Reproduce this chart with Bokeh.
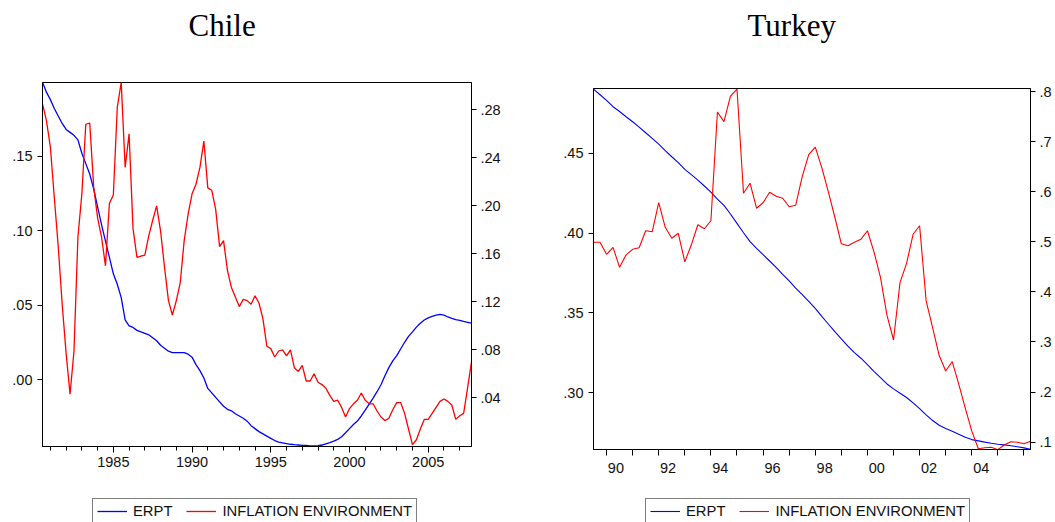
from bokeh.plotting import figure
from bokeh.models import Range1d, LinearAxis, FixedTicker, Legend, LegendItem, Title
from bokeh.layouts import row, column
from bokeh.embed import file_html
from bokeh.resources import INLINE

# ---------------- data ----------------
# Chile: quarterly, first observation 1980Q3
chile_start = 1980.5
chile_erpt = [
    .1997, .193, .188, .182, .177, .172, .168, .166, .164, .161,
    .152, .145, .138, .128, .116, .104, .093, .082, .071, .064,
    .055, .040, .036, .035, .033, .032, .031, .030, .028, .026,
    .023, .021, .019, .018, .018, .018, .018, .017, .015, .010,
    .006, .001, -.006, -.009, -.012, -.015, -.018, -.020, -.021, -.023,
    -.0245, -.026, -.028, -.031, -.033, -.035, -.0365, -.038, -.0395, -.041,
    -.042, -.0425, -.043, -.0435, -.0438, -.044, -.0442, -.0443,
    -.0446, -.0446, -.0445, -.044, -.0432, -.0424, -.0414, -.0402, -.0385, -.0358,
    -.0330, -.0302, -.0279, -.0245, -.0205, -.0165, -.0125, -.0082, -.0035, .0025,
    .0080, .0125, .0160, .0205, .0250, .0290, .0320, .0352, .0378, .0400,
    .0414, .0424, .0432, .0437, .0432, .0420, .0410, .0402, .0397, .0390,
    .0384, .0378,
]
chile_infl = [
    .285, .271, .249, .207, .166, .118, .077, .043, .079, .174,
    .210, .268, .269, .216, .190, .174, .150, .202, .209, .282,
    .303, .232, .260, .181, .157, .158, .159, .175, .188, .200,
    .179, .149, .121, .109, .121, .136, .171, .193, .210, .218,
    .232, .254, .215, .213, .197, .166, .171, .146, .132, .124,
    .116, .122, .121, .118, .125, .119, .106, .083, .081, .074,
    .079, .080, .075, .080, .065, .062, .067, .054, .054, .060,
    .053, .051, .048, .042, .037, .038, .032, .024, .031, .035,
    .038, .044, .038, .035, .035, .029, .024, .021, .023, .030,
    .036, .036, .027, .014, .001, .005, .014, .022, .022, .027,
    .032, .037, .039, .037, .034, .022, .025, .027, .048, .070,
]

# Turkey: quarterly, first observation 1989Q3
turkey_start = 1989.5
turkey_erpt = [
    .4900, .4865, .4830, .4790, .4760, .4727, .4696, .4662, .4627, .4592,
    .4556, .4515, .4477, .4440, .4398, .4365, .4331, .4294, .4256, .4212,
    .4173, .4119, .4060, .4002, .3946, .3904, .3865, .3825, .3785, .3742,
    .3700, .3656, .3615, .3573, .3529, .3479, .3431, .3383, .3338, .3292,
    .3252, .3217, .3177, .3135, .3096, .3056, .3025, .2998, .2971, .2938,
    .2902, .2863, .2827, .2798, .2777, .2760, .2742, .2723, .2708, .2700,
    .2692, .2685, .2679, .2675, .2669, .2663, .2656, .2648,
]
turkey_infl = [
    .499, .499, .475, .489, .449, .474, .485, .488, .522, .520,
    .578, .529, .507, .517, .460, .494, .534, .526, .542, .759,
    .740, .791, .805, .597, .617, .567, .578, .599, .591, .587,
    .570, .573, .630, .674, .689, .648, .600, .549, .496, .492,
    .499, .505, .522, .480, .429, .353, .304, .419, .457, .515,
    .532, .382, .328, .273, .242, .261, .216, .168, .122, .087,
    .089, .090, .085, .095, .101, .100, .097, .102,
]

chile_left_ticks = [0.00, 0.05, 0.10, 0.15]
chile_left_labels = [".00", ".05", ".10", ".15"]
chile_right_ticks = [0.04, 0.08, 0.12, 0.16, 0.20, 0.24, 0.28]
chile_right_labels = [".04", ".08", ".12", ".16", ".20", ".24", ".28"]
chile_label_years = [1985, 1990, 1995, 2000, 2005]
chile_label_texts = ["1985", "1990", "1995", "2000", "2005"]

turkey_left_ticks = [0.30, 0.35, 0.40, 0.45]
turkey_left_labels = [".30", ".35", ".40", ".45"]
turkey_right_ticks = [0.1, 0.2, 0.3, 0.4, 0.5, 0.6, 0.7, 0.8]
turkey_right_labels = [".1", ".2", ".3", ".4", ".5", ".6", ".7", ".8"]
turkey_label_years = [1990, 1992, 1994, 1996, 1998, 2000, 2002, 2004]
turkey_label_texts = ["90", "92", "94", "96", "98", "00", "02", "04"]

series_names = ["ERPT", "INFLATION ENVIRONMENT"]
series_colors = ["#0000FF", "#FF0000"]

AXIS_FONT = "Liberation Sans"
AXIS_SIZE = "14.5px"
LEGEND_SIZE = "14.8px"


def style_axis(ax):
    ax.axis_line_color = "black"
    ax.axis_line_width = 1
    ax.major_tick_line_color = "black"
    ax.minor_tick_line_color = "black"
    ax.major_label_text_font = AXIS_FONT
    ax.major_label_text_font_size = AXIS_SIZE
    ax.major_label_text_color = "#111111"


def quarters(start, n):
    return [start + 0.25 * i for i in range(n)]


def make_panel(title, start, erpt, infl, lrange, rrange,
               lticks, llabels, rticks, rlabels,
               xmaj, xmaj_labels, xminor, xlabel_shift,
               fw, fh, bl, br, bt, bb, title_offset, title_gap,
               major_out, minor_out, xstandoff, lw):
    xe = quarters(start, len(erpt))
    xi = quarters(start, len(infl))
    x_end = start + 0.25 * (max(len(erpt), len(infl)) - 1)
    p = figure(frame_width=fw, frame_height=fh,
               x_range=Range1d(start, x_end), y_range=Range1d(*lrange),
               output_backend="svg", toolbar_location=None,
               min_border_left=bl, min_border_right=br,
               min_border_top=bt, min_border_bottom=bb)
    p.background_fill_color = "white"
    p.border_fill_color = "white"
    p.outline_line_color = "black"
    p.outline_line_width = 1
    p.grid.visible = False
    p.title.text = ""

    # spacer between frame and title, then the title itself
    p.add_layout(Title(text=" ", text_font_size="1px", standoff=title_gap), "above")
    t = Title(text=title, align="left", offset=title_offset, standoff=0,
              text_font="Liberation Serif", text_font_size="31px",
              text_font_style="normal", text_color="black")
    p.add_layout(t, "above")

    p.extra_y_ranges = {"right": Range1d(*rrange)}

    # x axis
    xax = p.xaxis[0]
    style_axis(xax)
    ticks = [y + xlabel_shift for y in xmaj]
    xax.ticker = FixedTicker(ticks=ticks, minor_ticks=xminor)
    xax.major_label_overrides = {t_: s for t_, s in zip(ticks, xmaj_labels)}
    xax.major_tick_in = 0
    xax.major_tick_out = major_out
    if major_out == 0:
        xax.major_tick_line_color = None
    xax.minor_tick_in = 0
    xax.minor_tick_out = minor_out
    xax.major_label_standoff = xstandoff

    # left axis
    yax = p.yaxis[0]
    style_axis(yax)
    yax.ticker = FixedTicker(ticks=lticks)
    yax.major_label_overrides = {t_: s for t_, s in zip(lticks, llabels)}
    yax.major_tick_in = 0
    yax.major_tick_out = 5
    yax.minor_tick_line_color = None
    yax.major_label_standoff = 5

    # right axis
    rax = LinearAxis(y_range_name="right",
                     ticker=FixedTicker(ticks=rticks),
                     major_label_overrides={t_: s for t_, s in zip(rticks, rlabels)})
    style_axis(rax)
    rax.major_tick_in = 0
    rax.major_tick_out = 5
    rax.minor_tick_line_color = None
    rax.major_label_standoff = 4
    p.add_layout(rax, "right")

    p.line(xe, erpt, line_color=series_colors[0], line_width=lw)
    p.line(xi, infl, line_color=series_colors[1], line_width=lw, y_range_name="right")
    return p


def make_legend(width, height, left, top, start, erpt, infl, lw):
    # a thin strip under the panel that only holds the legend box
    lf = figure(width=width, height=height, output_backend="svg",
                toolbar_location=None, x_axis_location=None, y_axis_location=None,
                x_range=Range1d(0, 1), y_range=Range1d(0, 1), min_border=0)
    lf.outline_line_color = None
    lf.grid.visible = False
    lf.title.text = ""
    lf.background_fill_color = "white"
    lf.border_fill_color = "white"
    # legend keys: the same series, lying outside this strip's view
    k1 = lf.line(quarters(start, len(erpt)), erpt, line_color=series_colors[0], line_width=lw)
    k2 = lf.line(quarters(start, len(infl)), infl, line_color=series_colors[1], line_width=lw)
    leg = Legend(items=[LegendItem(label=series_names[0], renderers=[k1]),
                        LegendItem(label=series_names[1], renderers=[k2])],
                 orientation="horizontal")
    leg.border_line_color = "black"
    leg.border_line_width = 1
    leg.background_fill_color = "white"
    leg.background_fill_alpha = 1
    leg.label_text_font = AXIS_FONT
    leg.label_text_font_size = LEGEND_SIZE
    leg.label_text_color = "#111111"
    leg.glyph_width = 30
    leg.glyph_height = 14
    leg.label_standoff = 6
    leg.spacing = 14
    leg.padding = 4
    leg.margin = 0
    leg.label_height = 14
    leg_h = 25
    leg.location = (left, height - top - leg_h)
    lf.add_layout(leg, "center")
    return lf


chile_minor = list(range(1981, 2008))
turkey_minor = list(range(1990, 2007))

p1 = make_panel("Chile", chile_start, chile_erpt, chile_infl,
                (-0.045, 0.1995), (-0.0006, 0.3028),
                chile_left_ticks, chile_left_labels, chile_right_ticks, chile_right_labels,
                chile_label_years, chile_label_texts, chile_minor, 0.0,
                429, 364, 42, 59, 82, 52, 146, 37,
                6, 4, 4, 1.3)
l1 = make_legend(530, 24, 50, 1, chile_start, chile_erpt, chile_infl, 1.3)

p2 = make_panel("Turkey", turkey_start, turkey_erpt, turkey_infl,
                (0.2646, 0.4904), (0.0854, 0.806),
                turkey_left_ticks, turkey_left_labels, turkey_right_ticks, turkey_right_labels,
                turkey_label_years, turkey_label_texts, turkey_minor, 0.36,
                437, 361, 63, 25, 88, 49, 154, 43,
                0, 6, 7, 1.1)
l2 = make_legend(525, 24, 52, 1, turkey_start, turkey_erpt, turkey_infl, 1.1)

layout = row(column(p1, l1), column(p2, l2))
open("out.html", "w").write(file_html(layout, INLINE))
